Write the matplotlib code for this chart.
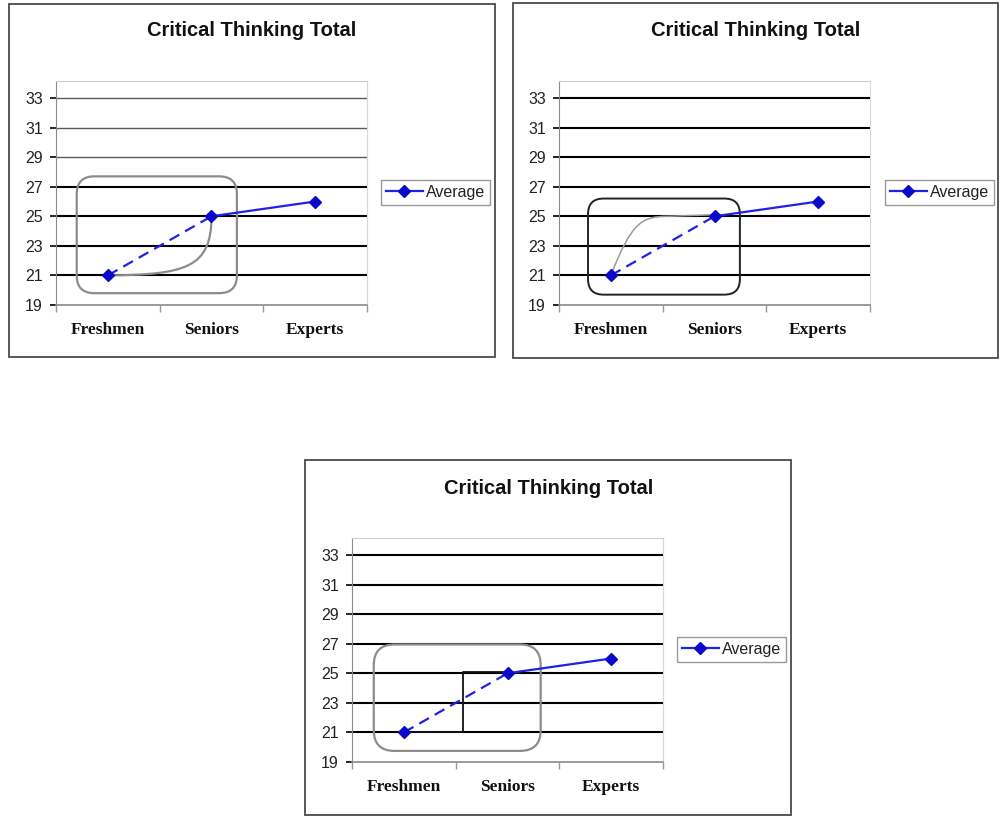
import matplotlib
matplotlib.use("Agg")
import matplotlib.pyplot as plt
from matplotlib.patches import Rectangle, FancyBboxPatch, PathPatch
from matplotlib.path import Path
from matplotlib.lines import Line2D

# --- data -------------------------------------------------------------
categories = ["Freshmen", "Seniors", "Experts"]
average = [21, 25, 26]
y_ticks = [19, 21, 23, 25, 27, 29, 31, 33]
title = "Critical Thinking Total"
legend_label = "Average"

# highlight shapes, in (category index, score) units
box_1 = (-0.30, 19.8, 1.245, 27.7)          # x0, y0, x1, y1
curve_1 = [(0, 21), (0.75, 21.05), (1.0, 21.5), (1.0, 25)]
box_2 = (-0.22, 19.7, 1.245, 26.2)
curve_2 = [(0, 21), (0.2, 24.6), (0.3, 25.0), (0.55, 25.0)]
curve_2_tail = [(0.55, 25.0), (0.98, 25.1)]
box_3 = (-0.29, 19.75, 1.32, 26.95)
step_3 = [(0, 21.0), (0.57, 21.0), (0.57, 25.1), (1.0, 25.1)]

W, H = 1002, 818
BLUE = "#2020e6"

fig = plt.figure(figsize=(W / 100, H / 100), dpi=100)
fig.patch.set_facecolor("white")


def fig_rect(x0, y0, x1, y1):
    return [x0 / W, 1 - y1 / H, (x1 - x0) / W, (y1 - y0) / H]


def frame(x0, y0, x1, y1):
    fig.add_artist(Rectangle((x0 / W, 1 - y1 / H), (x1 - x0) / W, (y1 - y0) / H,
                             transform=fig.transFigure, fill=False,
                             ec="#4a4a4a", lw=1.3))


def panel(ax_px, frame_px, title_px, legend_px, light_upper=False):
    frame(*frame_px)
    fig.text(title_px[0] / W, 1 - title_px[1] / H, title, ha="center", va="center",
             fontsize=14.5, fontweight="bold", family="Liberation Sans", color="#111")

    ax = fig.add_axes(fig_rect(*ax_px))
    x = list(range(len(categories)))
    ax.set_xlim(-0.5, len(categories) - 0.5)
    ax.set_ylim(19, 34.15)

    # horizontal rules at each score tick
    for v in y_ticks[1:]:
        if light_upper and v >= 29:
            ax.axhline(v, color="#5a5a5a", lw=1.0, zorder=1)
        else:
            ax.axhline(v, color="black", lw=1.5, zorder=1)

    ax.set_yticks(y_ticks)
    ax.set_yticklabels([str(v) for v in y_ticks])
    ax.tick_params(axis="y", direction="out", length=4, width=1.2, color="black",
                   pad=5.5, labelsize=11.5)
    for lab in ax.get_yticklabels():
        lab.set_family("Liberation Sans")
        lab.set_color("#222")

    ax.set_xticks(x)
    ax.set_xticklabels(categories)
    ax.set_xticks([i - 0.5 for i in range(len(categories) + 1)], minor=True)
    ax.tick_params(axis="x", which="major", length=0, pad=12.5, labelsize=12.5)
    ax.tick_params(axis="x", which="minor", direction="out", length=5,
                   width=1, color="#999")
    for lab in ax.get_xticklabels():
        lab.set_family("Liberation Serif")
        lab.set_fontweight("bold")
        lab.set_color("#111")

    ax.spines["left"].set_color("#8a8a8a")
    ax.spines["bottom"].set_color("#8a8a8a")
    ax.spines["bottom"].set_linewidth(1.2)
    ax.spines["top"].set_color("#cfcfcf")
    ax.spines["right"].set_color("#d8d8d8")

    # series: dashed to Seniors, solid to Experts
    ax.plot(x[:2], average[:2], color=BLUE, lw=1.6, ls=(0, (5, 3)), zorder=4)
    ax.plot(x[1:], average[1:], color=BLUE, lw=1.6, zorder=4)
    ax.plot(x, average, ls="none", marker="D", ms=6.5, color="#0a0ac8", zorder=5)

    handle = Line2D([], [], color=BLUE, lw=1.6, marker="D", ms=6.5,
                    markerfacecolor="#0a0ac8", markeredgecolor="#0a0ac8")
    leg = ax.legend([handle], [legend_label], loc="upper left",
                    bbox_to_anchor=(legend_px[0] / W, 1 - legend_px[1] / H),
                    bbox_transform=fig.transFigure, borderaxespad=0,
                    fancybox=False, framealpha=1, edgecolor="#9a9a9a",
                    prop={"family": "Liberation Sans", "size": 11.5},
                    handlelength=2.3, handletextpad=0.2, borderpad=0.3)
    leg.get_frame().set_linewidth(1.0)
    for t in leg.get_texts():
        t.set_color("#222")
    return ax


def aspect_of(ax):
    bb = ax.get_position()
    wpx, hpx = bb.width * W, bb.height * H
    xr = ax.get_xlim()[1] - ax.get_xlim()[0]
    yr = ax.get_ylim()[1] - ax.get_ylim()[0]
    return (yr / hpx) / (xr / wpx)


def rounded_box(ax, b, r, color, lw):
    x0, y0, x1, y1 = b
    p = FancyBboxPatch((x0, y0), x1 - x0, y1 - y0,
                       boxstyle=f"round,pad=0,rounding_size={r}",
                       mutation_aspect=aspect_of(ax), fill=False,
                       ec=color, lw=lw, zorder=3)
    ax.add_patch(p)


def bezier(ax, pts, color, lw):
    path = Path(pts, [Path.MOVETO, Path.CURVE4, Path.CURVE4, Path.CURVE4])
    ax.add_patch(PathPatch(path, fill=False, ec=color, lw=lw, zorder=3))


# panel 1: top left
ax1 = panel((56, 81, 367, 305), (9, 4, 495, 357), (252, 31), (381, 180),
            light_upper=True)
rounded_box(ax1, box_1, 0.17, "#8c8c8c", 1.6)
bezier(ax1, curve_1, "#8c8c8c", 1.6)

# panel 2: top right
ax2 = panel((559, 81, 870, 305), (513, 3, 998, 358), (756, 31), (885, 180))
rounded_box(ax2, box_2, 0.15, "#222222", 1.4)
bezier(ax2, curve_2, "#9a9a9a", 1.1)
ax2.plot([p[0] for p in curve_2_tail], [p[1] for p in curve_2_tail],
         color="#9a9a9a", lw=1.1, zorder=3)

# panel 3: bottom centre
ax3 = panel((352, 538, 663, 762), (305, 460, 791, 815), (549, 488), (677, 637))
rounded_box(ax3, box_3, 0.2, "#8c8c8c", 1.6)
ax3.plot([p[0] for p in step_3], [p[1] for p in step_3], color="#111",
         lw=1.3, zorder=3)

fig.savefig("out.png", dpi=100, facecolor="white")
